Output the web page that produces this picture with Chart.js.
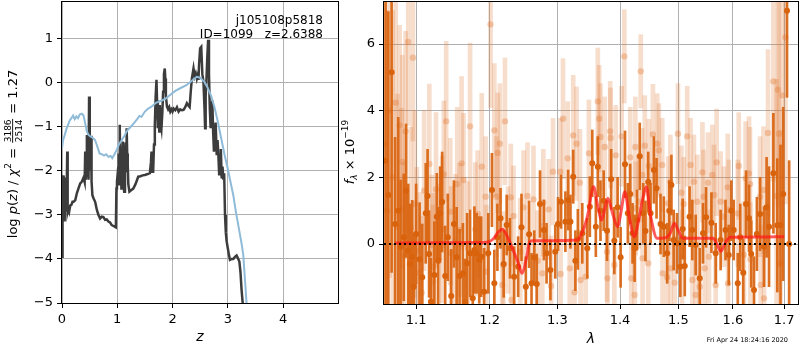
<!DOCTYPE html>
<html>
<head>
<meta charset="utf-8">
<script src="https://cdn.jsdelivr.net/npm/chart.js@4.4.1/dist/chart.umd.min.js"></script>
<style>
  html, body { margin: 0; padding: 0; background: #fff; }
  #wrap { position: relative; width: 800px; height: 350px; }
  #left { position: absolute; left: 0; top: 0; width: 340px; height: 350px; }
  #right { position: absolute; left: 340px; top: 0; width: 460px; height: 350px; }
</style>
</head>
<body>
<div id="wrap">
  <canvas id="left" width="340" height="350"></canvas>
  <canvas id="right" width="460" height="350"></canvas>
</div>
<script>
// ---- left panel: log p(z)
const zTicks = [0, 1, 2, 3, 4];
const logpTicks = [-5, -4, -3, -2, -1, 0, 1];

const zBlue = [0.00, 0.02, 0.05, 0.08, 0.11, 0.14, 0.17, 0.20, 0.23, 0.26,
  0.29, 0.32, 0.36, 0.39, 0.42, 0.45, 0.48, 0.52, 0.56, 0.60,
  0.64, 0.68, 0.72, 0.76, 0.80, 0.84, 0.88, 0.91, 0.95, 0.99,
  1.03, 1.08, 1.13, 1.18, 1.24, 1.30, 1.36, 1.40, 1.44, 1.50,
  1.56, 1.62, 1.70, 1.78, 1.86, 1.95, 2.05, 2.14, 2.25, 2.35,
  2.44, 2.50, 2.58, 2.64, 2.70, 2.76, 2.82, 2.88, 2.94, 3.00,
  3.05, 3.10, 3.15, 3.20, 3.25, 3.28, 3.31, 3.34, 3.36];
const logpBlue = [-1.48, -1.30, -1.18, -1.05, -0.95, -0.85, -0.80, -0.74, -0.82, -0.76,
  -0.80, -0.72, -0.70, -0.74, -0.92, -1.10, -1.18, -1.22, -1.25, -1.30,
  -1.45, -1.60, -1.62, -1.65, -1.62, -1.68, -1.66, -1.71, -1.62, -1.52,
  -1.40, -1.30, -1.20, -1.08, -1.00, -0.92, -0.82, -0.75, -0.77, -0.65,
  -0.58, -0.54, -0.45, -0.41, -0.37, -0.28, -0.18, -0.12, -0.05, 0.05,
  0.14, 0.12, 0.02, -0.12, -0.30, -0.55, -0.88, -1.25, -1.62, -1.95,
  -2.25, -2.55, -2.95, -3.30, -3.65, -3.90, -4.45, -5.00, -5.40];

const zBlack = [0.000, 0.005, 0.010, 0.015, 0.020, 0.025, 0.030, 0.035, 0.040, 0.045,
  0.050, 0.055, 0.060, 0.065, 0.075, 0.085, 0.095, 0.100, 0.105, 0.115,
  0.130, 0.150, 0.170, 0.190, 0.210, 0.240, 0.270, 0.300, 0.330, 0.360,
  0.390, 0.410, 0.420, 0.430, 0.440, 0.450, 0.460, 0.470, 0.480, 0.490,
  0.500, 0.505, 0.515, 0.525, 0.535, 0.550, 0.570, 0.600, 0.630, 0.660,
  0.690, 0.720, 0.750, 0.780, 0.810, 0.840, 0.870, 0.900, 0.930, 0.960,
  0.975, 0.985, 0.995, 1.005, 1.015, 1.025, 1.035, 1.045, 1.055, 1.065,
  1.075, 1.085, 1.100, 1.110, 1.125, 1.140, 1.150, 1.160, 1.170, 1.180,
  1.190, 1.200, 1.220, 1.250, 1.290, 1.330, 1.380, 1.420, 1.460, 1.500,
  1.550, 1.590, 1.610, 1.620, 1.635, 1.650, 1.665, 1.680, 1.695, 1.710,
  1.720, 1.735, 1.750, 1.760, 1.770, 1.785, 1.800, 1.815, 1.830, 1.845,
  1.860, 1.870, 1.880, 1.900, 1.920, 1.940, 1.960, 1.980, 2.000, 2.020,
  2.050, 2.080, 2.110, 2.140, 2.170, 2.200, 2.230, 2.260, 2.290, 2.310,
  2.330, 2.350, 2.380, 2.400, 2.420, 2.440, 2.460, 2.470, 2.480, 2.500,
  2.520, 2.540, 2.560, 2.580, 2.590, 2.600, 2.615, 2.630, 2.645, 2.660,
  2.675, 2.690, 2.705, 2.720, 2.735, 2.750, 2.765, 2.780, 2.800, 2.815,
  2.830, 2.845, 2.860, 2.875, 2.890, 2.905, 2.920, 2.935, 2.950, 2.965,
  2.980, 3.000, 3.020, 3.040, 3.070, 3.100, 3.130, 3.160, 3.190, 3.210,
  3.230, 3.250, 3.270, 3.290];
const logpBlack = [-3.95, -3.50, -3.20, -2.30, -2.10, -2.90, -3.10, -2.40, -2.20, -2.95,
  -3.15, -2.80, -2.15, -2.60, -2.90, -2.40, -1.56, -2.30, -2.92, -2.85,
  -2.92, -2.78, -2.77, -2.70, -2.70, -2.66, -2.50, -2.39, -2.28, -2.24,
  -2.15, -2.25, -1.56, -2.20, -1.90, -1.18, -2.10, -1.40, -2.20, -0.31,
  -0.90, -1.60, -2.00, -1.20, -2.24, -2.55, -2.62, -2.70, -2.88, -3.00,
  -3.08, -3.04, -3.05, -3.11, -3.10, -3.15, -3.17, -3.23, -3.25, -3.27,
  -3.28, -2.40, -2.24, -2.10, -2.17, -1.60, -2.30, -0.95, -2.00, -1.50,
  -2.40, -1.80, -1.33, -2.20, -2.47, -1.60, -1.35, -2.00, -1.03, -1.60,
  -1.86, -2.30, -2.47, -2.44, -2.40, -2.30, -2.13, -2.12, -2.10, -2.09,
  -2.07, -2.05, -1.80, -1.56, -2.02, -2.02, -1.40, -0.95, -0.30, 0.07,
  -0.40, -1.03, -0.60, -1.10, -0.50, -0.90, -1.03, -0.70, -0.20, 0.20,
  0.33, 0.10, -0.30, -0.54, -0.60, -0.55, -0.65, -0.60, -0.65, -0.58,
  -0.62, -0.55, -0.65, -0.60, -0.62, -0.61, -0.55, -0.46, -0.52, -0.55,
  -0.20, 0.10, 0.33, 0.15, 0.22, 0.10, 0.20, 0.07, 0.40, 0.79,
  0.82, 0.20, 0.03, -0.60, -1.03, -0.30, 0.10, 0.60, 0.98, 0.20,
  -0.58, -1.03, -0.70, -0.40, -1.10, -1.56, -1.20, -0.90, -1.64, -1.30,
  -1.64, -2.10, -1.80, -1.50, -2.17, -1.90, -2.20, -2.05, -3.00, -3.40,
  -3.60, -3.75, -3.90, -4.02, -4.00, -4.00, -3.95, -3.92, -4.00, -4.06,
  -4.30, -4.70, -5.00, -5.40];

// ---- right panel: spectrum
const lamTicks = [1.1, 1.2, 1.3, 1.4, 1.5, 1.6, 1.7];
const fluxTicks = [0, 2, 4, 6];
const lamMin = 1.059, lamMax = 1.728;

const lamDark = [1.061, 1.0644, 1.0686, 1.073, 1.077, 1.080, 1.084, 1.087, 1.0898, 1.092,
  1.0949, 1.0971, 1.100, 1.1045, 1.108, 1.1126, 1.115, 1.117, 1.1194, 1.124,
  1.1272, 1.129, 1.1317, 1.1344, 1.1385, 1.142, 1.1466, 1.1503, 1.154, 1.158,
  1.1626, 1.1657, 1.1684, 1.1725, 1.1762, 1.1785, 1.1816, 1.1853, 1.188, 1.1921,
  1.198, 1.2032, 1.2066, 1.211, 1.2155, 1.220, 1.2244, 1.2292, 1.2352, 1.2411,
  1.246, 1.2524, 1.2573, 1.2609, 1.265, 1.2687, 1.2736, 1.2795, 1.2835, 1.2894,
  1.2968, 1.301, 1.3056, 1.3124, 1.3167, 1.3203, 1.3246, 1.328, 1.3319, 1.3389,
  1.3468, 1.3509, 1.3548, 1.3605, 1.3637, 1.368, 1.3732, 1.3786, 1.3854, 1.3906,
  1.396, 1.401, 1.4083, 1.413, 1.417, 1.4209, 1.4244, 1.4285, 1.433, 1.4389,
  1.4428, 1.4475, 1.4515, 1.4572, 1.4618, 1.4687, 1.4744, 1.4803, 1.484, 1.4877,
  1.4917, 1.4976, 1.5035, 1.5077, 1.5114, 1.520, 1.525, 1.531, 1.5384, 1.5444,
  1.550, 1.5598, 1.5677, 1.5769, 1.586, 1.5921, 1.597, 1.6014, 1.6092, 1.614,
  1.6197, 1.625, 1.6307, 1.635, 1.6404, 1.646, 1.6522, 1.66, 1.665, 1.6698,
  1.6784, 1.6862, 1.6926, 1.698, 1.7057, 1.710];
const fluxDark = [2.5, 1.47, 5.15, 0.6, 1.0, -0.08, 0.2, 1.6, -0.2, -0.6,
  -0.39, -1.28, 0.3, -0.46, -1.0, 0.92, 1.44, -0.3, -1.73, -0.93,
  0.82, -0.5, 0.92, 1.26, -0.96, 0.2, -1.56, 0.6, -0.4, -0.96,
  -0.88, -1.75, -0.58, -0.28, -1.63, -0.18, -0.28, -0.48, -0.38, -1.43,
  -0.28, 1.62, -1.18, 0.2, 0.77, -0.6, 0.57, -0.13, -0.98, -0.68,
  0.5, -1.28, 0.29, -1.18, -0.4, -1.2, 1.2, 0.42, -0.28, -0.78,
  -0.23, 0.6, 1.27, 0.67, 1.32, 0.67, 2.02, -0.5, 0.14, 0.32,
  -0.13, 1.12, 2.42, 0.52, 2.32, 1.0, 1.3, 0.4, 1.94, 0.1,
  1.1, -0.4, 2.39, 0.92, 1.5, 0.32, -0.13, 0.72, 2.63, 0.92,
  0.39, 1.86, 0.92, 2.22, 1.67, 0.6, 0.52, -0.28, 1.0, 1.77,
  0.12, 0.02, -0.68, 0.45, -0.66, 0.82, 0.42, -0.03, -1.03, 0.32,
  0.8, 0.64, -0.28, 0.12, 0.42, -0.33, 1.0, 0.42, -1.18, 0.2,
  -0.86, 1.2, 0.77, -0.3, -1.38, 0.3, 0.9, -0.08, 1.1, 0.52,
  2.12, 0.56, 0.57, 1.5, 7.0, 0.0];
const errDark = [6.0, 5.5, 6.0, 2.6, 2.8, 2.0, 1.9, 2.0, 2.0, 1.8,
  1.7, 1.6, 1.5, 1.7, 1.6, 1.5, 1.4, 1.3, 1.3, 1.6,
  1.3, 1.6, 1.4, 1.5, 1.5, 1.3, 1.4, 1.3, 1.5, 1.4,
  1.5, 1.3, 1.5, 1.3, 1.4, 1.3, 1.2, 1.3, 1.2, 1.3,
  1.2, 1.1, 1.0, 1.0, 0.9, 1.0, 0.9, 0.9, 0.9, 0.9,
  1.0, 0.9, 1.0, 0.9, 0.8, 0.9, 1.0, 0.9, 0.9, 0.9,
  0.8, 0.8, 0.8, 0.9, 0.9, 0.8, 0.8, 0.9, 0.9, 0.9,
  0.9, 0.9, 1.0, 0.9, 0.9, 0.9, 0.9, 0.9, 0.9, 1.0,
  0.9, 0.9, 1.0, 0.9, 0.9, 0.9, 1.0, 0.9, 1.0, 0.9,
  0.9, 0.9, 0.9, 1.0, 0.9, 0.9, 0.9, 0.9, 0.9, 0.9,
  0.9, 0.9, 0.9, 0.9, 0.9, 0.9, 0.9, 0.9, 0.9, 0.9,
  0.9, 0.9, 0.9, 0.9, 0.9, 0.9, 0.9, 0.9, 0.9, 1.0,
  1.0, 1.0, 1.0, 1.0, 1.0, 1.1, 1.1, 1.2, 1.5, 1.8,
  1.8, 2.0, 2.4, 2.6, 2.6, 2.5];

const lamLight = [1.060, 1.063, 1.066, 1.070, 1.0737, 1.076, 1.0788, 1.0813, 1.0822, 1.0844,
  1.0864, 1.0898, 1.093, 1.0958, 1.0983, 1.101, 1.1045, 1.1072, 1.1105, 1.1173,
  1.1208, 1.1218, 1.123, 1.1262, 1.130, 1.1344, 1.1367, 1.1398, 1.1453, 1.1466,
  1.1526, 1.1548, 1.158, 1.1608, 1.1635, 1.1694, 1.1725, 1.1798, 1.183, 1.1888,
  1.1942, 1.1952, 1.2012, 1.2066, 1.2096, 1.2115, 1.2145, 1.218, 1.2195, 1.2219,
  1.2263, 1.2303, 1.2313, 1.2343, 1.2441, 1.249, 1.2549, 1.2638, 1.270, 1.2771,
  1.2786, 1.2868, 1.2904, 1.2933, 1.3044, 1.305, 1.3087, 1.316, 1.3192, 1.3246,
  1.3266, 1.3298, 1.3351, 1.3362, 1.3441, 1.3494, 1.3637, 1.3659, 1.3679, 1.3748,
  1.3786, 1.3793, 1.3838, 1.3845, 1.3906, 1.3929, 1.4026, 1.4071, 1.417, 1.4187,
  1.4244, 1.4256, 1.4262, 1.4313, 1.4347, 1.4371, 1.4378, 1.4416, 1.4475, 1.4485,
  1.4555, 1.463, 1.4658, 1.4716, 1.4722, 1.4803, 1.4819, 1.4859, 1.4866, 1.4935,
  1.4993, 1.5053, 1.5066, 1.5095, 1.5158, 1.5218, 1.525, 1.5279, 1.531, 1.5341,
  1.5384, 1.5433, 1.5452, 1.5476, 1.5535, 1.5553, 1.5616, 1.5646, 1.5677, 1.5695,
  1.5769, 1.583, 1.5902, 1.5908, 1.5921, 1.6092, 1.6111, 1.6209, 1.6242, 1.6307,
  1.6326, 1.6333, 1.6522, 1.6535, 1.6588, 1.660, 1.6678, 1.6784, 1.6848, 1.6874,
  1.6894, 1.6926, 1.696, 1.7025];
const fluxLight = [3.0, 1.0, 4.0, 2.0, 4.24, 0.5, 3.56, 1.07, 2.46, -0.36,
  3.38, 6.06, 0.5, 5.59, 1.2, -0.2, -0.86, -1.46, 1.6, 2.4,
  -0.03, -1.13, -0.68, 1.64, -0.5, 0.44, 2.09, 3.68, 0.97, -0.28,
  0.09, 1.8, 0.42, 2.42, 1.92, -0.13, 3.53, 0.44, 0.9, 2.32,
  1.42, -0.83, 6.59, 3.41, 1.42, 2.73, 3.01, -1.23, -0.63, 3.68,
  0.12, 1.4, -1.68, 0.84, -0.23, 1.1, 1.44, 1.34, -0.5, -0.88,
  1.24, 1.04, -1.26, 2.17, 2.17, -0.9, 3.76, 2.57, -0.73, 3.26,
  -1.45, 3.01, 1.84, -1.08, -0.98, 2.72, 4.28, 3.76, 3.21, 2.91,
  -0.23, -1.03, 3.38, 3.18, -0.63, 2.66, 3.23, 5.63, 2.6, -1.03,
  -1.53, 2.91, 1.07, 1.27, 5.18, 2.07, -0.43, 2.95, -0.58, 2.34,
  3.29, 3.01, 2.81, 2.37, -0.88, -1.0, 1.22, 1.87, -0.73, -1.16,
  3.31, 1.54, -0.38, 1.2, 3.23, 2.37, -1.08, 1.87, -1.53, 1.27,
  -1.28, 2.15, 1.42, -0.73, 1.84, -0.38, 2.07, 1.47, -1.23, 2.45,
  1.27, 0.82, 1.7, -1.18, 1.02, 0.92, 2.34, -0.33, 1.97, 2.12,
  1.8, -0.46, 1.42, -1.23, 1.62, -1.63, 3.33, 4.88, 1.44, 4.63,
  3.31, -0.58, 4.46, 6.2];
const errLight = [6.0, 6.0, 5.0, 5.0, 3.5, 4.0, 3.0, 3.0, 3.2, 2.8,
  3.0, 2.5, 3.0, 2.5, 2.8, 2.5, 2.4, 2.3, 2.4, 2.4,
  2.1, 2.3, 2.2, 2.3, 2.3, 2.2, 2.2, 2.4, 2.2, 2.0,
  2.0, 2.3, 2.0, 2.6, 2.0, 2.0, 2.5, 2.0, 1.9, 2.2,
  1.8, 2.0, 2.5, 2.0, 1.8, 1.8, 1.8, 1.7, 1.6, 1.9,
  1.6, 1.6, 1.5, 1.5, 1.6, 1.7, 1.6, 1.6, 1.5, 1.5,
  1.6, 1.5, 1.5, 1.6, 1.6, 1.5, 1.8, 1.7, 1.5, 1.8,
  1.5, 1.7, 1.6, 1.5, 1.5, 1.6, 1.6, 1.6, 1.6, 1.5,
  1.5, 1.5, 1.5, 1.5, 1.4, 1.5, 1.5, 1.4, 1.5, 1.4,
  1.4, 1.5, 1.4, 1.4, 1.1, 1.4, 1.4, 1.5, 1.4, 1.4,
  1.5, 1.5, 1.4, 1.4, 1.4, 1.4, 1.4, 1.4, 1.4, 1.4,
  1.5, 1.4, 1.4, 1.4, 1.5, 1.4, 1.4, 1.4, 1.4, 1.4,
  1.4, 1.5, 1.4, 1.4, 1.5, 1.4, 1.5, 1.5, 1.4, 1.6,
  1.5, 1.5, 1.6, 1.5, 1.5, 1.6, 1.6, 1.6, 1.7, 1.7,
  1.7, 1.7, 1.8, 1.8, 1.9, 1.9, 2.5, 3.0, 3.5, 3.5,
  4.0, 4.0, 4.5, 5.0];

const lamModel = [1.073, 1.100, 1.150, 1.196, 1.205, 1.212, 1.218, 1.224, 1.232, 1.240,
  1.247, 1.253, 1.258, 1.262, 1.290, 1.331, 1.340, 1.347, 1.357, 1.363,
  1.370, 1.375, 1.380, 1.388, 1.396, 1.402, 1.408, 1.415, 1.424, 1.432,
  1.438, 1.444, 1.452, 1.463, 1.475, 1.485, 1.493, 1.500, 1.508, 1.530,
  1.563, 1.570, 1.577, 1.586, 1.595, 1.650, 1.700];
const fluxModel = [0.03, 0.03, 0.04, 0.05, 0.15, 0.35, 0.44, 0.28, -0.10, -0.50,
  -0.88, -0.45, 0.05, 0.10, 0.10, 0.12, 0.40, 0.82, 1.72, 1.20,
  0.72, 1.05, 1.37, 0.90, 0.52, 1.00, 1.57, 0.85, 0.22, 0.80,
  1.35, 1.72, 0.80, 0.17, 0.18, 0.30, 0.62, 0.40, 0.17, 0.17,
  0.17, 0.00, -0.22, 0.05, 0.20, 0.21, 0.22];

// ---- helpers
Chart.defaults.font.family = "'DejaVu Sans', sans-serif";
Chart.defaults.font.size = 13;
Chart.defaults.color = '#000';

const minus = v => (v < 0 ? '\u2212' + Math.abs(v) : String(v));
const pts = (xs, ys) => xs.map((x, i) => ({ x: x, y: ys[i] }));
// fixed axis box size, and no extra room for half tick labels
const fixSize = n => scale => {
  if (scale.isHorizontal()) scale.height = n; else scale.width = n;
  scale.paddingTop = 0; scale.paddingBottom = 0; scale.paddingLeft = 0; scale.paddingRight = 0;
};
const setTicks = vals => scale => { scale.ticks = vals.map(v => ({ value: v })); };

const gridOpts = { color: '#b0b0b0', lineWidth: 1, tickColor: '#000', tickLength: 5, tickWidth: 1 };

const frameBox = {
  id: 'frameBox',
  afterDraw(chart) {
    const { ctx, chartArea: a } = chart;
    ctx.save();
    ctx.strokeStyle = '#000';
    ctx.lineWidth = 1;
    ctx.strokeRect(Math.round(a.left) - 0.5, Math.round(a.top) - 0.5,
      Math.round(a.right - a.left) + 1, Math.round(a.bottom - a.top) + 1);
    ctx.restore();
  }
};

function richFont(p, base) {
  return (p.it ? 'italic ' : '') + (p.size || base) + "px 'DejaVu Sans'";
}

// vertical label with sub/superscripts and a small fraction
function drawRich(ctx, x, y, parts, base) {
  ctx.save();
  ctx.translate(x, y);
  ctx.rotate(-Math.PI / 2);
  ctx.fillStyle = '#000';
  ctx.textBaseline = 'alphabetic';
  let total = 0;
  for (const p of parts) {
    ctx.font = richFont(p, base);
    p.w = p.frac ? Math.max(...p.frac.map(s => ctx.measureText(s).width)) + 3 : ctx.measureText(p.t).width;
    total += p.w;
  }
  let u = -total / 2;
  for (const p of parts) {
    ctx.font = richFont(p, base);
    if (p.frac) {
      ctx.textAlign = 'center';
      ctx.fillText(p.frac[0], u + p.w / 2, -6.5);
      ctx.fillText(p.frac[1], u + p.w / 2, 4.5);
      ctx.fillRect(u + 1, -4.8, p.w - 2, 0.9);
      ctx.textAlign = 'left';
    } else {
      ctx.fillText(p.t, u, p.dy || 0);
    }
    u += p.w;
  }
  ctx.restore();
}

const leftText = {
  id: 'leftText',
  afterDraw(chart) {
    const ctx = chart.ctx;
    drawRich(ctx, 17, 154, [
      { t: 'log ' }, { t: 'p', it: true }, { t: '(' }, { t: 'z', it: true }, { t: ') / ' },
      { t: '\u03c7', it: true }, { t: '2', size: 9, dy: -6 }, { t: ' = ' },
      { frac: ['3186', '2514'], size: 9 }, { t: ' = 1.27' }
    ], 13);
    ctx.save();
    ctx.font = "12px 'DejaVu Sans'";
    ctx.fillStyle = '#000';
    ctx.textAlign = 'right';
    ctx.fillText('j105108p5818', 323, 24);
    ctx.fillText('ID=1099   z=2.6388', 323, 38);
    ctx.restore();
  }
};

const rightText = {
  id: 'rightText',
  afterDraw(chart) {
    const ctx = chart.ctx;
    drawRich(ctx, 14, 152, [
      { t: 'f', it: true }, { t: '\u03bb', it: true, size: 9, dy: 3 }, { t: ' \u00d7 10' },
      { t: '\u221219', size: 9, dy: -6 }
    ], 13);
    ctx.save();
    ctx.font = "6.5px 'DejaVu Sans'";
    ctx.fillStyle = '#000';
    ctx.textAlign = 'right';
    ctx.fillText('Fri Apr 24 18:24:16 2020', 448, 342);
    ctx.restore();
  }
};

// ---- left chart
new Chart(document.getElementById('left'), {
  type: 'line',
  data: {
    datasets: [
      { label: 'template', data: pts(zBlue, logpBlue), borderColor: '#8fbbd9', borderWidth: 2,
        pointRadius: 0, tension: 0, order: 0 },
      { label: 'p(z)', data: pts(zBlack, logpBlack), borderColor: '#3c3c3c', borderWidth: 2.5,
        pointRadius: 0, tension: 0, order: 1 }
    ]
  },
  options: {
    responsive: false,
    animation: false,
    events: [],
    layout: { autoPadding: false, padding: { top: 2, right: 2, left: 0, bottom: 0 } },
    plugins: { legend: { display: false }, tooltip: { enabled: false } },
    scales: {
      x: {
        type: 'linear', min: 0, max: 4.995,
        afterBuildTicks: setTicks(zTicks),
        afterFit: fixSize(47),
        grid: gridOpts, border: { display: false },
        ticks: { autoSkip: false, maxRotation: 0, padding: 4, callback: v => minus(v) },
        title: { display: true, text: 'z', font: { style: 'italic', size: 14 }, padding: { top: 0, bottom: 4 } }
      },
      y: {
        type: 'linear', min: -5, max: 1.84,
        afterBuildTicks: setTicks(logpTicks),
        afterFit: fixSize(62),
        grid: gridOpts, border: { display: false },
        ticks: { autoSkip: false, padding: 4, callback: v => minus(v) }
      }
    }
  },
  plugins: [frameBox, leftText]
});

// ---- right chart
const darkCol = 'rgba(217,100,15,0.92)';
const lightCol = 'rgba(225,120,50,0.25)';

new Chart(document.getElementById('right'), {
  type: 'bar',
  data: {
    datasets: [
      { type: 'line', label: 'zero', data: [{ x: lamMin, y: 0 }, { x: lamMax, y: 0 }],
        borderColor: '#000', borderWidth: 1.8, borderDash: [2, 3], pointRadius: 0, order: 0 },
      { type: 'line', label: 'model', data: pts(lamModel, fluxModel), borderColor: 'rgba(255,25,25,0.72)',
        borderWidth: 3, pointRadius: 0, cubicInterpolationMode: 'monotone', order: 1 },
      { type: 'line', label: 'flux', data: pts(lamDark, fluxDark), showLine: false, pointRadius: 3,
        pointBackgroundColor: '#d9620c', pointBorderWidth: 0, order: 2 },
      { type: 'bar', label: 'err', data: lamDark.map((l, i) => ({ x: l, y: [fluxDark[i] - errDark[i], fluxDark[i] + errDark[i]] })),
        backgroundColor: darkCol, barThickness: 2, grouped: false, order: 3 },
      { type: 'line', label: 'flux2', data: pts(lamLight, fluxLight), showLine: false, pointRadius: 3.2,
        pointBackgroundColor: 'rgba(225,120,50,0.35)', pointBorderWidth: 0, order: 4 },
      { type: 'bar', label: 'err2', data: lamLight.map((l, i) => ({ x: l, y: [fluxLight[i] - errLight[i], fluxLight[i] + errLight[i]] })),
        backgroundColor: lightCol, barThickness: 4, grouped: false, order: 5 }
    ]
  },
  options: {
    responsive: false,
    animation: false,
    events: [],
    layout: { autoPadding: false, padding: { top: 2, right: 2, left: 0, bottom: 0 } },
    plugins: { legend: { display: false }, tooltip: { enabled: false } },
    scales: {
      x: {
        type: 'logarithmic', min: lamMin, max: lamMax, offset: false,
        afterBuildTicks: setTicks(lamTicks),
        afterFit: fixSize(46),
        grid: Object.assign({ offset: false }, gridOpts), border: { display: false },
        ticks: { autoSkip: false, maxRotation: 0, padding: 4, callback: v => Number(v).toFixed(1) },
        title: { display: true, text: '\u03bb', font: { style: 'italic', size: 14 }, padding: { top: 0, bottom: 2 } }
      },
      y: {
        type: 'linear', min: -1.8, max: 7.26,
        afterBuildTicks: setTicks(fluxTicks),
        afterFit: fixSize(44),
        grid: gridOpts, border: { display: false },
        ticks: { autoSkip: false, padding: 4, callback: v => minus(v) }
      }
    }
  },
  plugins: [frameBox, rightText]
});
</script>
</body>
</html>
